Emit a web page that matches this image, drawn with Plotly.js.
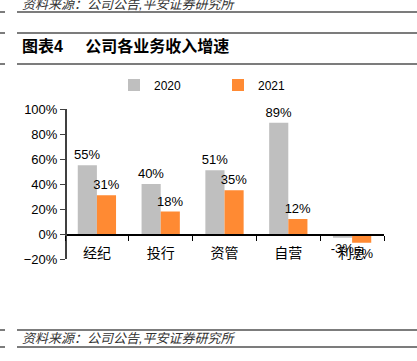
<!DOCTYPE html>
<html><head><meta charset="utf-8">
<script src="https://cdn.plot.ly/plotly-3.0.1.min.js"></script>
<style>html,body{margin:0;padding:0;background:#fff;}#c{width:417px;height:361px;}</style>
</head><body><div id="c"></div>
<script>
const categories = ['经纪', '投行', '资管', '自营', '利息'];
const series2020 = [0.55, 0.40, 0.51, 0.89, -0.03];
const series2021 = [0.31, 0.18, 0.35, 0.12, -0.07];
const seriesNames = ['2020', '2021'];
const yTicks = [-0.2, 0, 0.2, 0.4, 0.6, 0.8, 1.0];
const titleText = '图表4\u00a0\u00a0\u00a0\u00a0\u00a0公司各业务收入增速';
const sourceText = '资料来源：公司公告,平安证券研究所';

const W = 417, H = 361, L = 65, R = 33, T = 109, B = 102;
const PW = W - L - R, PH = H - T - B;
const px = x => (x - L) / PW;
const py = y => (H - B - y) / PH;
const FONT = 'Liberation Sans, Arial, Noto Sans CJK SC, sans-serif';
const lineCol = '#505050';

const shapes = [];
function hline(y) {
  shapes.push({type:'line', xref:'paper', yref:'paper', x0:px(17), x1:px(417), y0:py(y), y1:py(y), line:{color:lineCol, width:1.5}});
  shapes.push({type:'line', xref:'paper', yref:'paper', x0:px(0), x1:px(5), y0:py(y), y1:py(y), line:{color:lineCol, width:1.5}});
}
[12, 33, 64, 330, 347].forEach(hline);

const annotations = [
  {text:'<i>'+sourceText+'</i>', xref:'paper', yref:'paper', x:px(20), y:py(4), xanchor:'left', yanchor:'middle', showarrow:false,
   font:{family:FONT, size:13, color:'#333'}},
  {text:'<b>'+titleText+'</b>', xref:'paper', yref:'paper', x:px(20), y:py(46), xanchor:'left', yanchor:'middle', showarrow:false,
   font:{family:FONT, size:16, color:'#000'}},
  {text:'<i>'+sourceText+'</i>', xref:'paper', yref:'paper', x:px(20), y:py(338), xanchor:'left', yanchor:'middle', showarrow:false,
   font:{family:FONT, size:13, color:'#333'}}
];

const colors = ['#BFBFBF', '#FF8A33'];
const legendX = [114, 218];
const data = [series2020, series2021].map((vals, i) => ({
  type:'bar', name:seriesNames[i], x:categories, y:vals,
  marker:{color:colors[i]}, legend: i === 0 ? 'legend' : 'legend2',
  texttemplate:'%{y:.0%}', textposition:'outside', cliponaxis:false, constraintext:'none',
  textfont:{family:FONT, size:13, color:'#000'}
}));
const legendBase = {orientation:'h', yanchor:'middle', xanchor:'left', itemwidth:30,
  bgcolor:'rgba(0,0,0,0)', font:{family:FONT, size:12, color:'#000'}};

const layout = {
  width:W, height:H, margin:{l:L, r:R, t:T, b:B, pad:0},
  paper_bgcolor:'#fff', plot_bgcolor:'#fff',
  barmode:'group', bargap:0.4, bargroupgap:0,
  showlegend:true,
  legend:Object.assign({}, legendBase, {x:px(legendX[0]), y:py(85)}),
  legend2:Object.assign({}, legendBase, {x:px(legendX[1]), y:py(85)}),
  xaxis:{anchor:'free', position:py(234), showline:true, linecolor:'#000', linewidth:1.5,
    ticks:'outside', ticklen:5, tickcolor:'#000', tickson:'boundaries', ticklabelstandoff:6,
    tickfont:{family:FONT, size:14, color:'#000'}, showgrid:false, zeroline:false, fixedrange:true},
  yaxis:{range:[-0.2, 1.0], tickvals:yTicks, tickformat:'.0%', showline:true, linecolor:'#404040', linewidth:1.5,
    ticks:'outside', ticklen:5, tickcolor:'#404040', showgrid:false, zeroline:false,
    anchor:'free', position:0, tickfont:{family:FONT, size:13, color:'#000'}},
  shapes:shapes, annotations:annotations
};
Plotly.newPlot('c', data, layout, {staticPlot:true});
</script></body></html>
